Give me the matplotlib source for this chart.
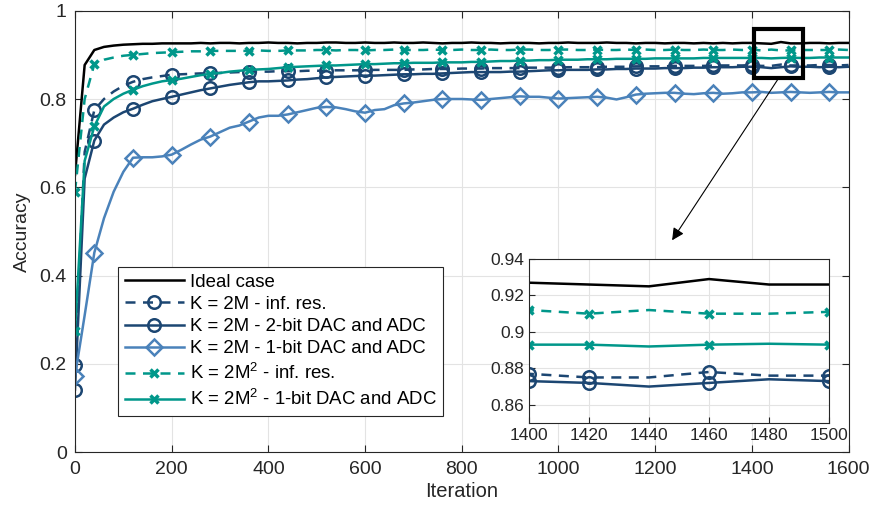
import numpy as np
import matplotlib
matplotlib.use('Agg')
import matplotlib.pyplot as plt
from matplotlib.patches import Rectangle
from matplotlib.ticker import FormatStrFormatter

plt.rcParams['font.family'] = ['Liberation Sans', 'DejaVu Sans']
plt.rcParams['mathtext.fontset'] = 'custom'
plt.rcParams['mathtext.rm'] = 'Liberation Sans'

# iteration axis, one sample every 20 iterations
iters = np.arange(0, 1601, 20)

ideal = [0.628, 0.877, 0.911, 0.918, 0.921, 0.923, 0.924, 0.925, 0.925, 0.926,
         0.926, 0.926, 0.926, 0.927, 0.926, 0.927, 0.927, 0.926, 0.927, 0.927,
         0.928, 0.927, 0.927, 0.926, 0.927, 0.927, 0.928, 0.928, 0.927, 0.927,
         0.928, 0.927, 0.927, 0.928, 0.927, 0.927, 0.928, 0.927, 0.926, 0.927,
         0.927, 0.928, 0.927, 0.927, 0.926, 0.927, 0.927, 0.927, 0.926, 0.927,
         0.927, 0.928, 0.927, 0.927, 0.927, 0.928, 0.927, 0.927, 0.926, 0.927,
         0.927, 0.926, 0.927, 0.927, 0.926, 0.927, 0.926, 0.927, 0.926, 0.927,
         0.927, 0.926, 0.925, 0.929, 0.926, 0.926, 0.927, 0.927, 0.926, 0.927,
         0.927]

k2m_inf = [0.197, 0.680, 0.775, 0.800, 0.817, 0.830, 0.839, 0.845, 0.849, 0.852,
           0.855, 0.856, 0.857, 0.858, 0.858, 0.859, 0.860, 0.861, 0.862, 0.862,
           0.862, 0.863, 0.863, 0.863, 0.864, 0.864, 0.864, 0.865, 0.865, 0.865,
           0.865, 0.866, 0.866, 0.866, 0.866, 0.867, 0.867, 0.868, 0.868, 0.868,
           0.869, 0.869, 0.869, 0.870, 0.870, 0.870, 0.870, 0.871, 0.871, 0.871,
           0.871, 0.872, 0.872, 0.872, 0.872, 0.873, 0.873, 0.873, 0.874, 0.874,
           0.874, 0.874, 0.875, 0.875, 0.875, 0.875, 0.876, 0.876, 0.876, 0.876,
           0.877, 0.875, 0.875, 0.878, 0.876, 0.876, 0.876, 0.877, 0.877, 0.876,
           0.877]

k2m_2bit = [0.142, 0.620, 0.706, 0.742, 0.758, 0.770, 0.778, 0.787, 0.795, 0.800,
            0.805, 0.810, 0.815, 0.820, 0.824, 0.828, 0.832, 0.835, 0.838, 0.840,
            0.840, 0.841, 0.842, 0.844, 0.845, 0.847, 0.849, 0.850, 0.851, 0.852,
            0.853, 0.853, 0.854, 0.855, 0.856, 0.856, 0.857, 0.857, 0.858, 0.859,
            0.860, 0.861, 0.861, 0.861, 0.861, 0.862, 0.862, 0.863, 0.864, 0.865,
            0.865, 0.866, 0.866, 0.866, 0.867, 0.867, 0.868, 0.868, 0.869, 0.869,
            0.869, 0.870, 0.870, 0.870, 0.871, 0.871, 0.872, 0.872, 0.872, 0.873,
            0.873, 0.872, 0.870, 0.872, 0.874, 0.873, 0.873, 0.872, 0.873, 0.872,
            0.873]

k2m_1bit = [0.172, 0.310, 0.452, 0.530, 0.590, 0.635, 0.667, 0.668, 0.668, 0.670,
            0.674, 0.685, 0.697, 0.708, 0.715, 0.725, 0.735, 0.740, 0.749, 0.758,
            0.762, 0.762, 0.765, 0.770, 0.775, 0.780, 0.782, 0.781, 0.777, 0.772,
            0.769, 0.775, 0.777, 0.786, 0.790, 0.792, 0.795, 0.798, 0.800, 0.800,
            0.800, 0.799, 0.798, 0.800, 0.802, 0.804, 0.806, 0.805, 0.805, 0.803,
            0.801, 0.802, 0.803, 0.804, 0.805, 0.803, 0.799, 0.804, 0.810, 0.812,
            0.813, 0.814, 0.814, 0.812, 0.811, 0.813, 0.814, 0.812, 0.813, 0.815,
            0.815, 0.816, 0.814, 0.815, 0.816, 0.815, 0.814, 0.815, 0.816, 0.815,
            0.815]

k2m2_inf = [0.590, 0.800, 0.879, 0.889, 0.894, 0.898, 0.900, 0.902, 0.904, 0.905,
            0.906, 0.907, 0.908, 0.908, 0.909, 0.909, 0.909, 0.909, 0.909, 0.910,
            0.909, 0.909, 0.910, 0.910, 0.910, 0.911, 0.911, 0.910, 0.911, 0.911,
            0.910, 0.911, 0.911, 0.912, 0.911, 0.911, 0.911, 0.912, 0.911, 0.911,
            0.912, 0.911, 0.911, 0.912, 0.911, 0.911, 0.912, 0.912, 0.911, 0.911,
            0.912, 0.912, 0.911, 0.911, 0.912, 0.911, 0.911, 0.912, 0.911, 0.912,
            0.911, 0.911, 0.912, 0.911, 0.911, 0.912, 0.911, 0.911, 0.912, 0.911,
            0.912, 0.910, 0.912, 0.910, 0.910, 0.911, 0.911, 0.911, 0.911, 0.912,
            0.911]

k2m2_1bit = [0.274, 0.660, 0.738, 0.783, 0.800, 0.812, 0.821, 0.829, 0.835, 0.840,
             0.843, 0.846, 0.850, 0.854, 0.857, 0.859, 0.862, 0.864, 0.866, 0.867,
             0.868, 0.870, 0.872, 0.873, 0.874, 0.875, 0.876, 0.876, 0.877, 0.878,
             0.879, 0.879, 0.880, 0.881, 0.881, 0.882, 0.882, 0.882, 0.883, 0.883,
             0.883, 0.884, 0.884, 0.885, 0.886, 0.886, 0.887, 0.887, 0.888, 0.888,
             0.889, 0.889, 0.889, 0.890, 0.890, 0.890, 0.891, 0.891, 0.891, 0.891,
             0.892, 0.892, 0.892, 0.892, 0.892, 0.893, 0.893, 0.893, 0.893, 0.893,
             0.893, 0.893, 0.892, 0.893, 0.8935, 0.893, 0.893, 0.894, 0.894, 0.894,
             0.894]

labels = ['Ideal case',
          'K = 2M - inf. res.',
          'K = 2M - 2-bit DAC and ADC',
          'K = 2M - 1-bit DAC and ADC',
          r'K = 2M$^2$ - inf. res.',
          r'K = 2M$^2$ - 1-bit DAC and ADC']

c_dark = '#1c4672'
c_light = '#4a82ba'
c_teal = '#00978a'

styles = [
    dict(color='black', ls='-', marker=None),
    dict(color=c_dark, ls=(0, (4, 3)), marker='o', ms=9, mfc='none', mew=1.8),
    dict(color=c_dark, ls='-', marker='o', ms=9, mfc='none', mew=1.8),
    dict(color=c_light, ls='-', marker='D', ms=8, mfc='none', mew=1.8),
    dict(color=c_teal, ls=(0, (4, 3)), marker='x', ms=6, mew=2.5),
    dict(color=c_teal, ls='-', marker='x', ms=6, mew=2.5),
]
series = [ideal, k2m_inf, k2m_2bit, k2m_1bit, k2m2_inf, k2m2_1bit]

main_marks = [0] + list(range(2, len(iters), 4))
inset_marks = [70, 71, 73, 75]

fig = plt.figure(figsize=(8.75, 5.17), dpi=100)
ax = fig.add_axes([0.0857, 0.1253, 0.8841, 0.854])

for y, st, lab in zip(series, styles, labels):
    ax.plot(iters, y, lw=1.8, label=lab, markevery=main_marks, **st)

ax.set_xlim(0, 1600)
ax.set_ylim(0, 1)
ax.set_xticks(np.arange(0, 1601, 200))
ax.set_yticks(np.arange(0, 1.01, 0.2))
ax.yaxis.set_major_formatter(FormatStrFormatter('%g'))
ax.grid(True, color='#e3e3e3', lw=0.8)
ax.tick_params(direction='in', top=True, right=True, labelsize=14,
               colors='#262626', length=5, pad=6)
for s in ax.spines.values():
    s.set_color('#262626')
ax.set_xlabel('Iteration', fontsize=14.5, color='#262626', labelpad=3)
ax.set_ylabel('Accuracy', fontsize=14, color='#262626', labelpad=6)

leg = ax.legend(loc='upper left', bbox_to_anchor=(0.0556, 0.4195), borderaxespad=0,
                fontsize=13.4, handlelength=3.2, handletextpad=0.3, labelspacing=0.28,
                borderpad=0.35, fancybox=False, framealpha=1, edgecolor='#262626')
leg.get_frame().set_linewidth(0.8)

# zoom box and arrow
ax.add_patch(Rectangle((1405, 0.848), 100, 0.11, fill=False, lw=3, ec='black', zorder=5))
ax.annotate('', xy=(1235, 0.48), xytext=(1454, 0.845),
            arrowprops=dict(arrowstyle='-|>', color='black', lw=0.8,
                            mutation_scale=18, shrinkA=0, shrinkB=0))

# inset
ins = fig.add_axes([0.6046, 0.1818, 0.3428, 0.3172])
for y, st in zip(series, styles):
    ins.plot(iters, y, lw=1.8, markevery=inset_marks, **st)
ins.set_xlim(1400, 1500)
ins.set_ylim(0.85, 0.94)
ins.set_xticks(np.arange(1400, 1501, 20))
ins.set_yticks(np.arange(0.86, 0.941, 0.02))
ins.yaxis.set_major_formatter(FormatStrFormatter('%g'))
ins.grid(True, color='#e3e3e3', lw=0.8)
ins.tick_params(direction='in', labelsize=12.5, colors='#262626', length=4)
for s in ins.spines.values():
    s.set_color('#262626')

fig.savefig('out.png', dpi=100)
